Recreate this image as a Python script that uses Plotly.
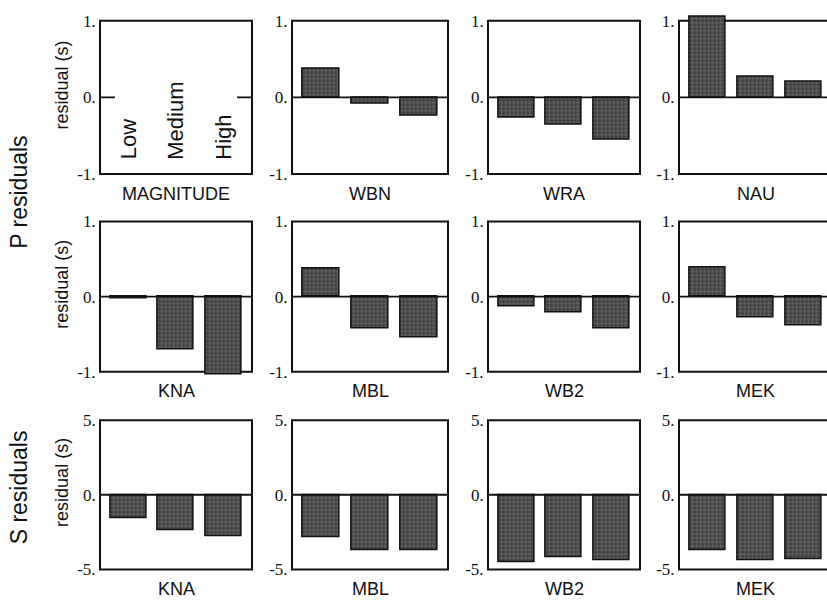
import plotly.graph_objects as go

# Residuals for Low / Medium / High magnitude events at each station
levels = [1, 2, 3]
level_names = ["Low", "Medium", "High"]

p_top_stations = ["WBN", "WRA", "NAU"]
p_wbn = [0.38, -0.08, -0.24]
p_wra = [-0.26, -0.35, -0.55]
p_nau = [1.05, 0.27, 0.20]

p_mid_stations = ["KNA", "MBL", "WB2", "MEK"]
p_kna = [-0.03, -0.70, -1.03]
p_mbl = [0.37, -0.43, -0.54]
p_wb2 = [-0.13, -0.21, -0.43]
p_mek = [0.39, -0.28, -0.38]

s_stations = ["KNA", "MBL", "WB2", "MEK"]
s_kna = [-1.60, -2.40, -2.75]
s_mbl = [-2.85, -3.70, -3.70]
s_wb2 = [-4.50, -4.20, -4.35]
s_mek = [-3.70, -4.40, -4.30]

p_ticks = [-1, 0, 1]
p_ticktext = ["-1.", "0.", "1."]
s_ticks = [-5, 0, 5]
s_ticktext = ["-5.", "0.", "5."]

W, H = 827, 607

# panel frames in pixels: columns (left, right), rows (top, bottom)
cols_px = [(100, 252), (292, 448), (488, 640), (679, 832)]
rows_px = [(18, 173), (221, 373), (422, 573)]
row_lim = [1.0, 1.0, 5.0]
XPAD = 0.05   # category-units of padding around the frame
YPAD = 0.08   # fraction of the limit

panels = []  # (row, col, title, values)
panels.append((0, 0, "MAGNITUDE", None))
for c, (name, vals) in enumerate(zip(p_top_stations, [p_wbn, p_wra, p_nau]), start=1):
    panels.append((0, c, name, vals))
for c, (name, vals) in enumerate(zip(p_mid_stations, [p_kna, p_mbl, p_wb2, p_mek])):
    panels.append((1, c, name, vals))
for c, (name, vals) in enumerate(zip(s_stations, [s_kna, s_mbl, s_wb2, s_mek])):
    panels.append((2, c, name, vals))

fig = go.Figure()
xlo, xhi = 0.4, 3.6
bar_fill = dict(shape=".", bgcolor="#5e5e5e", fgcolor="#141414", size=4, solidity=0.4)
tick_font = dict(family="Liberation Serif, Times New Roman, serif", size=17, color="#111")
sans = "Liberation Sans, Arial, Helvetica, sans-serif"

for i, (r, c, title, vals) in enumerate(panels):
    idx = i + 1
    xa = "x" if idx == 1 else f"x{idx}"
    ya = "y" if idx == 1 else f"y{idx}"
    lim = row_lim[r]
    left, right = cols_px[c]
    top, bottom = rows_px[r]
    ppu_x = (right - left) / (xhi - xlo)
    ppu_y = (bottom - top) / (2 * lim)
    dl = left - XPAD * ppu_x
    dr = right + XPAD * ppu_x
    dt = top - YPAD * lim * ppu_y
    db = bottom + YPAD * lim * ppu_y
    xr = [xlo - XPAD, xhi + XPAD]
    if dr > W:
        # last column runs off the page edge
        xr = [xr[0], xr[0] + (W - dl) / ppu_x]
        dr = W
    fig.layout[f"xaxis{'' if idx == 1 else idx}"] = dict(
        domain=[dl / W, dr / W], range=xr, anchor=ya,
        showgrid=False, zeroline=False, showticklabels=False, ticks="", showline=False,
    )
    fig.layout[f"yaxis{'' if idx == 1 else idx}"] = dict(
        domain=[1 - db / H, 1 - dt / H], range=[-lim * (1 + YPAD), lim * (1 + YPAD)],
        anchor=xa, showgrid=False, zeroline=False, showline=False, ticks="",
        tickvals=s_ticks if r == 2 else p_ticks,
        ticktext=s_ticktext if r == 2 else p_ticktext,
        tickfont=tick_font, ticklabelstandoff=1,
    )
    # panel frame
    fig.add_shape(type="rect", xref=xa, yref=ya, x0=xlo, x1=xhi, y0=-lim, y1=lim,
                  line=dict(color="#111", width=2), layer="below")
    if vals is not None:
        fig.add_trace(go.Bar(
            x=levels, y=vals, width=0.76, xaxis=xa, yaxis=ya, showlegend=False,
            marker=dict(color="#5e5e5e", pattern=bar_fill, line=dict(color="#111", width=1.5)),
        ))
        fig.add_shape(type="line", xref=xa, yref=ya, x0=xlo, x1=xhi, y0=0, y1=0,
                      line=dict(color="#111", width=1.8), layer="above")
    else:
        # key panel: short zero marks on both sides and the level names
        stub = 15 / ppu_x
        fig.add_shape(type="line", xref=xa, yref=ya, x0=xlo, x1=xlo + stub, y0=0, y1=0,
                      line=dict(color="#111", width=1.8))
        fig.add_shape(type="line", xref=xa, yref=ya, x0=xhi - stub, x1=xhi, y0=0, y1=0,
                      line=dict(color="#111", width=1.8))
        for lv, nm in zip(levels, level_names):
            fig.add_annotation(x=lv, y=-0.84, xref=xa, yref=ya, text=nm, textangle=-90,
                               showarrow=False, xanchor="center", yanchor="bottom",
                               font=dict(family=sans, size=22, color="#111"))
    # station title under the panel
    fig.add_annotation(x=(left + right) / 2 / W, y=1 - (bottom + 20) / H,
                       xref="paper", yref="paper",
                       text=title, showarrow=False, xanchor="center", yanchor="middle",
                       font=dict(family=sans, size=18, color="#111"))
    if c == 0:
        fig.add_annotation(x=62 / W, y=1 - (top + bottom) / 2 / H + 12 / H, xref="paper", yref="paper",
                           text="residual (s)", textangle=-90, showarrow=False,
                           xanchor="center", yanchor="middle",
                           font=dict(family=sans, size=18, color="#111"))

for txt, yc in [("P residuals", 192), ("S residuals", 490)]:
    fig.add_annotation(x=19 / W, y=1 - yc / H, xref="paper", yref="paper", text=txt,
                       textangle=-90, showarrow=False, xanchor="center", yanchor="middle",
                       font=dict(family=sans, size=23, color="#111"))

fig.update_layout(
    width=W, height=H, margin=dict(l=0, r=0, t=0, b=0),
    paper_bgcolor="white", plot_bgcolor="rgba(0,0,0,0)", bargap=0,
)

fig.write_html("out.html")
